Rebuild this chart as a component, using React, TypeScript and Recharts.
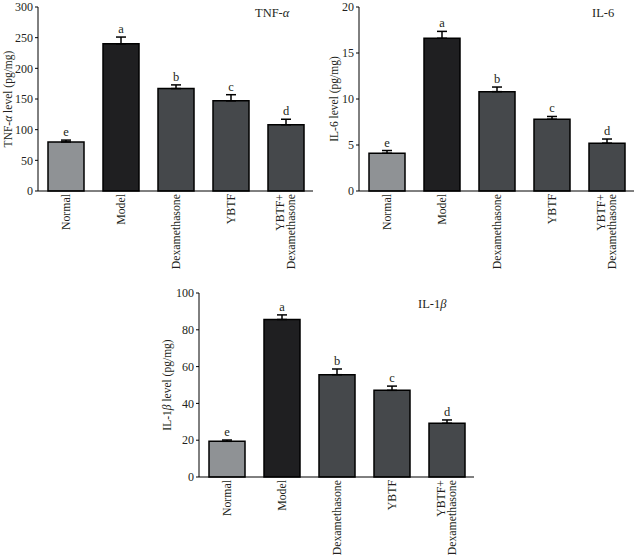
import React from 'react';
import { BarChart, Bar, XAxis, YAxis, Cell, ErrorBar, LabelList, Label } from 'recharts';

const categories = ['Normal', 'Model', 'Dexamethasone', 'YBTF', 'YBTF+ Dexamethasone'];
const letters = ['e', 'a', 'b', 'c', 'd'];

const tnfValues = [80, 240, 167, 147, 108];
const tnfErrors = [3, 11, 6, 10, 9];
const tnfTicks = [0, 50, 100, 150, 200, 250, 300];

const il6Values = [4.1, 16.6, 10.8, 7.8, 5.2];
const il6Errors = [0.3, 0.75, 0.5, 0.3, 0.45];
const il6Ticks = [0, 5, 10, 15, 20];

const il1bValues = [19.4, 85.6, 55.6, 47.1, 29.2];
const il1bErrors = [0.7, 2.5, 3.1, 2.3, 1.8];
const il1bTicks = [0, 20, 40, 60, 80, 100];

const edgeTicks = [0, 1, 2, 3, 4, 5];
const barColors = ['#8f9295', '#1f1f21', '#45484b', '#45484b', '#45484b'];

const FONT = '"Liberation Serif", "DejaVu Serif", serif';
const TXT = '#231f20';

function CatTick(props: any) {
  const { x, y, payload } = props;
  const s: string = String(payload.value);
  const idx = s.indexOf('+');
  const lines = idx >= 0 ? [s.slice(0, idx + 1), s.slice(idx + 1).trim()] : [s];
  const lh = 11.5;
  return (
    <g transform={`translate(${x},${y}) rotate(-90)`}>
      {lines.map((ln, i) => (
        <text
          key={i}
          x={0}
          y={(i - (lines.length - 1) / 2) * lh}
          dy="0.35em"
          textAnchor="end"
          fontFamily={FONT}
          fontSize={11.8}
          fill={TXT}
        >
          {ln}
        </text>
      ))}
    </g>
  );
}

type PanelProps = {
  left: number;
  top: number;
  width: number;
  yAxisWidth: number;
  values: number[];
  errors: number[];
  ticks: number[];
  labelX: number;
  labelMain: string;
  labelGreek?: string;
  labelRest: string;
};

function Panel(p: PanelProps) {
  const data = categories.map((c, i) => ({
    name: c,
    value: p.values[i],
    err: [0, p.errors[i]],
    letter: letters[i],
  }));
  const max = p.ticks[p.ticks.length - 1];
  const rightMargin = p.width - p.yAxisWidth - 275;

  const renderLetter = (lp: any) => {
    const { x, y, width, height, index } = lp;
    const v = p.values[index];
    const scale = Number(height) / v;
    const errPx = p.errors[index] * scale;
    return (
      <text
        x={Number(x) + Number(width) / 2}
        y={Number(y) - errPx - 4}
        textAnchor="middle"
        fontFamily={FONT}
        fontSize={12.5}
        fill={TXT}
      >
        {letters[index]}
      </text>
    );
  };

  const renderYLabel = (lp: any) => {
    const vb = lp.viewBox || {};
    const cx = Number(vb.x) + p.labelX;
    const cy = Number(vb.y) + Number(vb.height) / 2;
    return (
      <text
        x={cx}
        y={cy}
        transform={`rotate(-90, ${cx}, ${cy})`}
        textAnchor="middle"
        dy="0.35em"
        fontFamily={FONT}
        fontSize={11.5}
        fill={TXT}
      >
        {p.labelMain}
        {p.labelGreek ? <tspan fontStyle="italic">{p.labelGreek}</tspan> : null}
        {p.labelRest}
      </text>
    );
  };

  return (
    <div style={{ position: 'absolute', left: p.left, top: p.top, width: p.width, height: 280 }}>
      <BarChart
        width={p.width}
        height={280}
        data={data}
        margin={{ top: 7, right: rightMargin, left: 0, bottom: 0 }}
        barSize={36}
      >
        <XAxis
          dataKey="name"
          height={89}
          interval={0}
          tickLine={false}
          tickSize={0}
          tickMargin={3}
          axisLine={{ stroke: '#000', strokeWidth: 1 }}
          tick={<CatTick />}
        />
        <XAxis
          xAxisId="edge"
          type="number"
          domain={[0, 5]}
          ticks={edgeTicks}
          allowDataOverflow
          mirror
          tick={false}
          tickSize={3}
          axisLine={false}
          tickLine={{ stroke: '#000', strokeWidth: 1 }}
          height={0}
        />
        <YAxis
          width={p.yAxisWidth}
          domain={[0, max]}
          ticks={p.ticks}
          interval={0}
          tickSize={3}
          tickMargin={2}
          axisLine={{ stroke: '#000', strokeWidth: 1 }}
          tickLine={{ stroke: '#000', strokeWidth: 1 }}
          tick={{ fontFamily: FONT, fontSize: 12, fill: TXT }}
        >
          <Label content={renderYLabel} />
        </YAxis>
        <Bar dataKey="value" stroke="#000" strokeWidth={1.5} isAnimationActive={false}>
          {data.map((d, i) => (
            <Cell key={d.name} fill={barColors[i]} />
          ))}
          <ErrorBar dataKey="err" width={5} stroke="#000" strokeWidth={1.5} direction="y" />
          <LabelList dataKey="letter" content={renderLetter} />
        </Bar>
      </BarChart>
    </div>
  );
}

const titleStyle: React.CSSProperties = {
  position: 'absolute',
  fontFamily: FONT,
  fontSize: 12.5,
  color: TXT,
  lineHeight: '14px',
  whiteSpace: 'nowrap',
};

export default function App() {
  return (
    <div style={{ position: 'absolute', left: 0, top: 0, width: 634, height: 556, background: '#fff', overflow: 'hidden' }}>
      <Panel
        left={0}
        top={0}
        width={317}
        yAxisWidth={38}
        values={tnfValues}
        errors={tnfErrors}
        ticks={tnfTicks}
        labelX={8}
        labelMain="TNF-"
        labelGreek="α"
        labelRest=" level (pg/mg)"
      />
      <Panel
        left={317}
        top={0}
        width={317}
        yAxisWidth={42}
        values={il6Values}
        errors={il6Errors}
        ticks={il6Ticks}
        labelX={17}
        labelMain="IL-6 level (pg/mg)"
        labelRest=""
      />
      <Panel
        left={150}
        top={286}
        width={330}
        yAxisWidth={49}
        values={il1bValues}
        errors={il1bErrors}
        ticks={il1bTicks}
        labelX={17}
        labelMain="IL-1"
        labelGreek="β"
        labelRest=" level (pg/mg)"
      />
      <div style={{ ...titleStyle, left: 255, top: 6 }}>
        TNF-<i>α</i>
      </div>
      <div style={{ ...titleStyle, left: 592, top: 6 }}>IL-6</div>
      <div style={{ ...titleStyle, left: 418, top: 297 }}>
        IL-1<i>β</i>
      </div>
    </div>
  );
}
